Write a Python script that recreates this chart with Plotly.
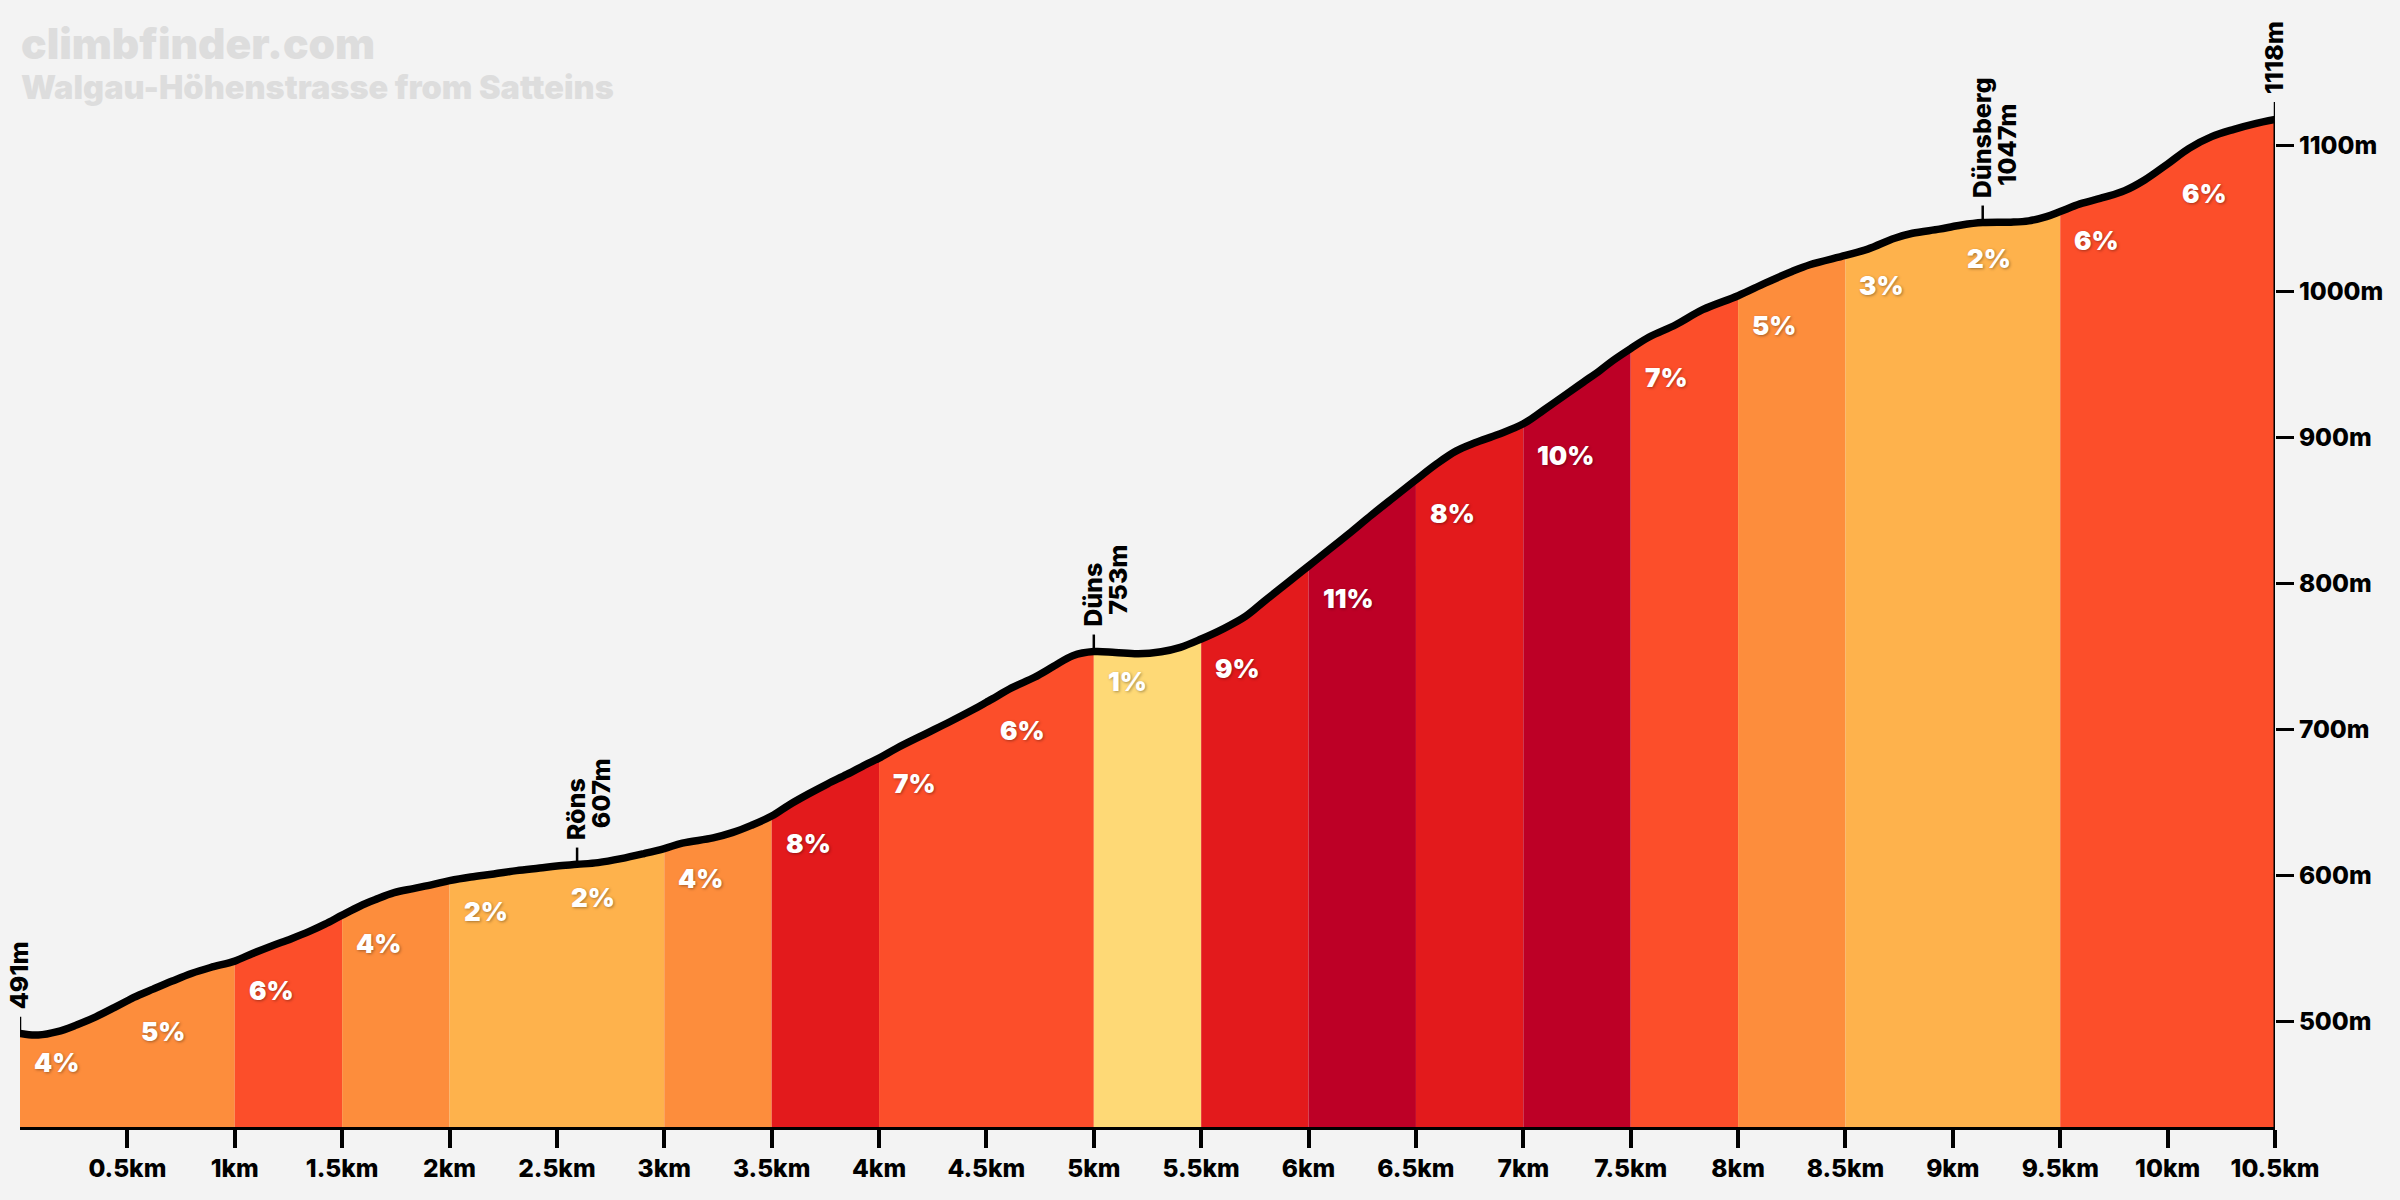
import plotly.graph_objects as go

profile_km = [0,.085,.174,.263,.353,.441,.5,.53,.62,.709,.798,.887,1.0,1.083,1.172,1.261,1.35,1.42,1.5,1.582,1.653,1.742,1.831,1.92,2.0,2.099,2.206,2.312,2.42,2.5,2.594,2.692,2.799,2.906,3.0,3.084,3.227,3.316,3.405,3.5,3.583,3.672,3.761,3.85,3.94,4.0,4.082,4.207,4.332,4.439,4.5,4.528,4.617,4.724,4.813,4.902,5.0,5.1,5.207,5.314,5.403,5.5,5.6,5.706,5.795,5.902,6.0,6.098,6.187,6.294,6.401,6.5,6.597,6.686,6.775,6.882,7.0,7.096,7.203,7.28,7.357,7.419,7.5,7.586,7.71,7.835,8.0,8.126,8.251,8.334,8.5,8.604,8.729,8.812,8.937,9.0,9.041,9.139,9.27,9.353,9.436,9.5,9.592,9.706,9.8,9.893,10.0,10.1,10.205,10.309,10.413,10.5]
profile_m = [491.5,490.5,492.8,497.4,503,509.5,514,516.3,522,527.5,532.7,536.8,541.2,546.4,551.6,556.4,561.7,566.5,572.7,578.8,583.2,588.1,590.9,593.6,596.3,598.8,600.9,603.2,605,606.4,607.5,608.7,611.4,614.9,618.3,622,625.6,629.2,634.2,640.6,648.4,655.8,662.7,669.1,676,680.3,687.1,696.3,705.4,713.6,718.6,720.9,728.4,735.7,743.2,750.5,753.3,752.7,751.8,753.2,756.2,761.9,768.7,777.4,788,800.5,812,823.5,834,847,859.5,871,882,890.7,896.4,902.1,909.4,919,930,938,946,953,961,968.9,977.3,987.6,997.2,1005.8,1013.8,1018.4,1024.8,1029.1,1036.6,1040,1042.8,1044.6,1045.7,1047.3,1047.6,1048.5,1051.4,1054.9,1060.1,1064.7,1069.2,1076.5,1087.5,1098.2,1106.2,1111.2,1115.3,1118]

grade_pct = [4,5,6,4,2,2,4,8,7,6,1,9,11,8,10,7,5,3,2,6,6]
grade_label_m = [472,493,521,553,575,585,598,622,663,699,733,742,790,848,888,941,977,1004,1023,1035,1067]
segment_km = 0.5

grade_colors = {1:"#fed976",2:"#feb24c",3:"#feb24c",4:"#fd8d3c",5:"#fd8d3c",6:"#fc4e2a",7:"#fc4e2a",8:"#e31a1c",9:"#e31a1c",10:"#bd0026",11:"#bd0026"}

km_ticks = [0.5*i for i in range(1,22)]
km_labels = ["0.5km","1km","1.5km","2km","2.5km","3km","3.5km","4km","4.5km","5km","5.5km","6km","6.5km","7km","7.5km","8km","8.5km","9km","9.5km","10km","10.5km"]
m_ticks = [500,600,700,800,900,1000,1100]
m_labels = ["500m","600m","700m","800m","900m","1000m","1100m"]

marker_km = [0,2.594,5.0,9.139,10.5]
marker_m = [491,607,753,1047,1118]
marker_names = ["","Röns","Düns","Dünsberg",""]

FONT = "Inter"
W, H = 2400, 1200
BG = "#f3f3f3"
fig = go.Figure()

# neighbouring segments of one colour are drawn as a single run, so no seam shows
runs = []
for i, pct in enumerate(grade_pct):
    col = grade_colors[pct]
    if runs and runs[-1][2] == col:
        runs[-1][1] = (i+1)*segment_km
    else:
        runs.append([i*segment_km, (i+1)*segment_km, col])
for a, b, col in runs:
    xs = [x for x in profile_km if a-1e-9 <= x <= b+1e-9]
    ys = [y for x, y in zip(profile_km, profile_m) if a-1e-9 <= x <= b+1e-9]
    fig.add_trace(go.Scatter(x=xs, y=ys, mode="lines", fill="tozeroy", fillcolor=col,
                             line=dict(width=0), hoverinfo="skip", showlegend=False))

# right-hand axis rule, up to the summit
fig.add_trace(go.Scatter(x=[10.5,10.5], y=[400,profile_m[-1]], mode="lines", line=dict(color="black", width=3),
                         hoverinfo="skip", showlegend=False, cliponaxis=True))
# marker ticks
tx, ty = [], []
for k, m in zip(marker_km, marker_m):
    tx += [k, k, None]; ty += [m, m+12, None]
fig.add_trace(go.Scatter(x=tx, y=ty, mode="lines", line=dict(color="black", width=2.5),
                         cliponaxis=False, hoverinfo="skip", showlegend=False))
# profile line
pad = 0.016
fig.add_trace(go.Scatter(x=[-pad]+profile_km+[10.5+pad], y=[profile_m[0]]+profile_m+[profile_m[-1]],
                         mode="lines", line=dict(color="black", width=7.5, shape="spline", smoothing=1.0),
                         cliponaxis=False, hoverinfo="skip", showlegend=False))

ann = []
for i, (pct, ym) in enumerate(zip(grade_pct, grade_label_m)):
    ann.append(dict(x=i*segment_km, y=ym, xref="x", yref="y", text=f"{pct}%", showarrow=False,
                    xanchor="left", yanchor="middle", xshift=12,
                    font=dict(family=FONT, size=26, color="white", weight=900,
                              shadow="1px 1px 3px rgba(0,0,0,0.35)")))

mk_font = dict(family=FONT, size=25, color="black", weight=800)
for k, m, name in zip(marker_km, marker_m, marker_names):
    if name:
        ann.append(dict(x=k, y=m, xref="x", yref="y", text=name, showarrow=False, textangle=-90,
                        xanchor="center", yanchor="bottom", xshift=-1, yshift=23, font=mk_font))
        ann.append(dict(x=k, y=m, xref="x", yref="y", text=f"{m}m", showarrow=False, textangle=-90,
                        xanchor="center", yanchor="bottom", xshift=24, yshift=35, font=mk_font))
    else:
        ann.append(dict(x=k, y=m, xref="x", yref="y", text=f"{m}m", showarrow=False, textangle=-90,
                        xanchor="center", yanchor="bottom", xshift=-1, yshift=23, font=mk_font))

ann.append(dict(x=0, y=1, xref="paper", yref="paper", text="climbfinder.com", showarrow=False,
                xanchor="left", yanchor="top", xshift=-1, yshift=-6,
                font=dict(family=FONT, size=42.5, color="#dddddd", weight=900)))
ann.append(dict(x=0, y=1, xref="paper", yref="paper", text="Walgau-Höhenstrasse from Satteins", showarrow=False,
                xanchor="left", yanchor="top", xshift=-1, yshift=-56,
                font=dict(family=FONT, size=32.5, color="#dddddd", weight=900)))

y0, ytop = 427.5, 1193
fig.update_layout(
    width=W, height=H, paper_bgcolor=BG, plot_bgcolor=BG,
    margin=dict(l=20, r=125, t=10, b=73, pad=0),
    showlegend=False, annotations=ann,
    font=dict(family=FONT, color="black"),
    xaxis=dict(range=[0,10.5], showgrid=False, zeroline=False, showline=True, linecolor="black", linewidth=3,
               tickmode="array", tickvals=km_ticks, ticktext=km_labels, ticks="outside", ticklen=18, tickwidth=4,
               tickcolor="black", tickfont=dict(family=FONT, size=24.5, color="black", weight=800)),
    yaxis=dict(range=[y0,ytop], side="right", showgrid=False, zeroline=False, showline=False,
               tickmode="array", tickvals=m_ticks, ticktext=m_labels, ticks="outside", ticklen=18, tickwidth=3,
               tickcolor="black", tickfont=dict(family=FONT, size=24.5, color="black", weight=800)),
)
fig.write_html("out.html", config={"displayModeBar": False},
               post_script=f"document.body.style.margin='0';document.body.style.background='{BG}';")
